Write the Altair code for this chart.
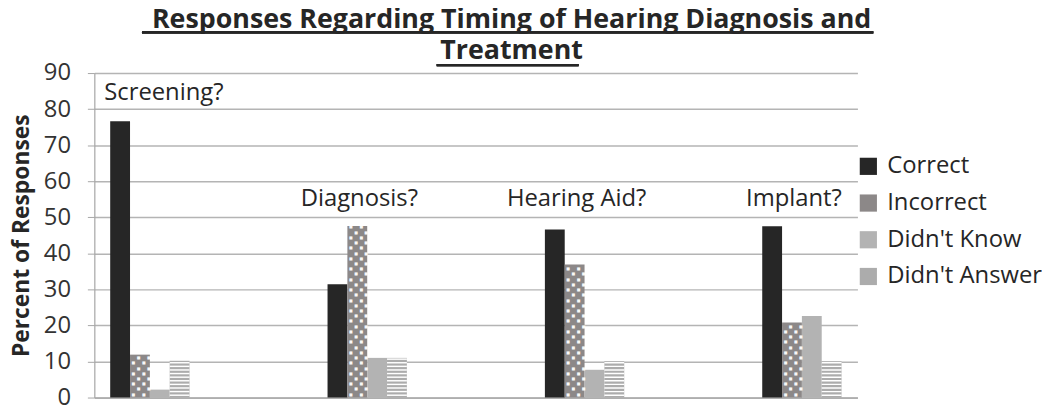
import altair as alt
import pandas as pd

categories = ["Screening?", "Diagnosis?", "Hearing Aid?", "Implant?"]
series = ["Correct", "Incorrect", "Didn't Know", "Didn't Answer"]
correct = [76.6, 31.4, 46.6, 47.5]
incorrect = [11.9, 47.6, 36.9, 20.8]
didnt_know = [2.2, 11.0, 7.7, 22.6]
didnt_answer = [10.2, 11.0, 10.1, 10.1]
label_y = [84.5, 55.0, 55.0, 55.0]
colors = ["#262626", "#8c8888", "#b3b3b3", "#acacac"]
y_ticks = [0, 10, 20, 30, 40, 50, 60, 70, 80, 90]
title_lines = ["Responses Regarding Timing of Hearing Diagnosis and", "Treatment"]

FONT = "Open Sans"
TXT = "#262626"
FS = 24

rows = []
for i, c in enumerate(categories):
    for s, vals in zip(series, [correct, incorrect, didnt_know, didnt_answer]):
        rows.append({"category": c, "series": s, "value": vals[i]})
df = pd.DataFrame(rows)
labels_df = pd.DataFrame({"category": categories, "label_y": label_y})

x_scale = alt.Scale(domain=categories, paddingInner=0.635, paddingOuter=0.073)
xo_scale = alt.Scale(domain=series, paddingInner=0, paddingOuter=0)
y_scale = alt.Scale(domain=[0, 90], nice=False)

x_axis = alt.Axis(labels=False, ticks=False, title=None, domain=True,
                  domainColor="#a6a6a6", domainWidth=1.2, grid=False)
y_axis = alt.Axis(values=y_ticks, labelOverlap=False, title="Percent of Responses",
                  titleFont=FONT, titleFontSize=23, titleFontWeight="bold", titleColor=TXT,
                  titlePadding=10, labelFont=FONT, labelFontSize=FS, labelColor="#333333",
                  labelPadding=17, tickSize=7, tickColor="#a6a6a6", domainColor="#a6a6a6",
                  domainWidth=1.2, grid=True, gridColor="#b4b4b4", gridWidth=1.5)

X = alt.X("category:N", scale=x_scale, axis=x_axis)
XO = alt.XOffset("series:N", scale=xo_scale)

legend = alt.Legend(title=None, orient="none", legendX=768, legendY=82,
                    symbolType="square", symbolSize=300, symbolStrokeWidth=0,
                    labelFont=FONT, labelFontSize=FS, labelColor=TXT,
                    labelOffset=7, rowPadding=13, padding=0)

bars = alt.Chart(df).mark_bar().encode(
    x=X, xOffset=XO,
    y=alt.Y("value:Q", scale=y_scale, axis=y_axis),
    color=alt.Color("series:N", scale=alt.Scale(domain=series, range=colors), legend=legend),
)

stripes = alt.Chart(df).transform_filter(
    alt.datum.series == "Didn't Answer"
).transform_calculate(
    s="sequence(0.45, datum.value - 0.5, 1)"
).transform_flatten(["s"]).transform_calculate(
    s2="datum.s + 0.4"
).mark_bar(color="white").encode(
    x=X, xOffset=XO, y=alt.Y("s:Q", scale=y_scale, axis=y_axis), y2="s2:Q"
)

dot_base = alt.Chart(df).transform_filter(alt.datum.series == "Incorrect")
rowA = dot_base.transform_calculate(s="sequence(0.8, datum.value - 0.4, 2.9)").transform_flatten(["s"])
rowB = dot_base.transform_calculate(s="sequence(2.25, datum.value - 0.4, 2.9)").transform_flatten(["s"])
dot_layers = []
for base, offs in [(rowA, [-6.5, 4]), (rowB, [-1.25, 9])]:
    for d in offs:
        dot_layers.append(
            base.mark_text(text="■", font="DejaVu Sans", fontSize=4, color="white",
                           opacity=0.95, dx=d, baseline="middle", align="center").encode(
                x=X, xOffset=XO, y=alt.Y("s:Q", scale=y_scale, axis=y_axis)
            )
        )

lab_first = alt.Chart(labels_df).transform_filter(alt.datum.category == "Screening?").mark_text(
    font=FONT, fontSize=FS, color=TXT, align="left", dx=-46
).encode(x=X, y=alt.Y("label_y:Q", scale=y_scale, axis=y_axis), text="category:N")
lab_rest = alt.Chart(labels_df).transform_filter(alt.datum.category != "Screening?").mark_text(
    font=FONT, fontSize=FS, color=TXT, align="center", dx=-8
).encode(x=X, y=alt.Y("label_y:Q", scale=y_scale, axis=y_axis), text="category:N")

underline1 = alt.Chart(labels_df).mark_rule(color=TXT, strokeWidth=2.5).encode(
    x=alt.value(48), x2=alt.value(785), y=alt.value(-41)
)
underline2 = alt.Chart(labels_df).mark_rule(color=TXT, strokeWidth=2.5).encode(
    x=alt.value(345), x2=alt.value(488), y=alt.value(-8)
)

chart = alt.layer(bars, stripes, *dot_layers, lab_first, lab_rest, underline1, underline2).properties(
    width=769, height=327,
    title=alt.TitleParams(title_lines, font=FONT, fontSize=27, fontWeight="bold", color=TXT,
                          anchor="middle", dx=36, offset=12, dy=46, lineHeight=31),
    padding={"left": 87, "top": 64, "right": 186, "bottom": 12},
    autosize="none",
).configure_view(stroke=None)

chart.save("out.html", embed_options={"renderer": "svg", "actions": False})
